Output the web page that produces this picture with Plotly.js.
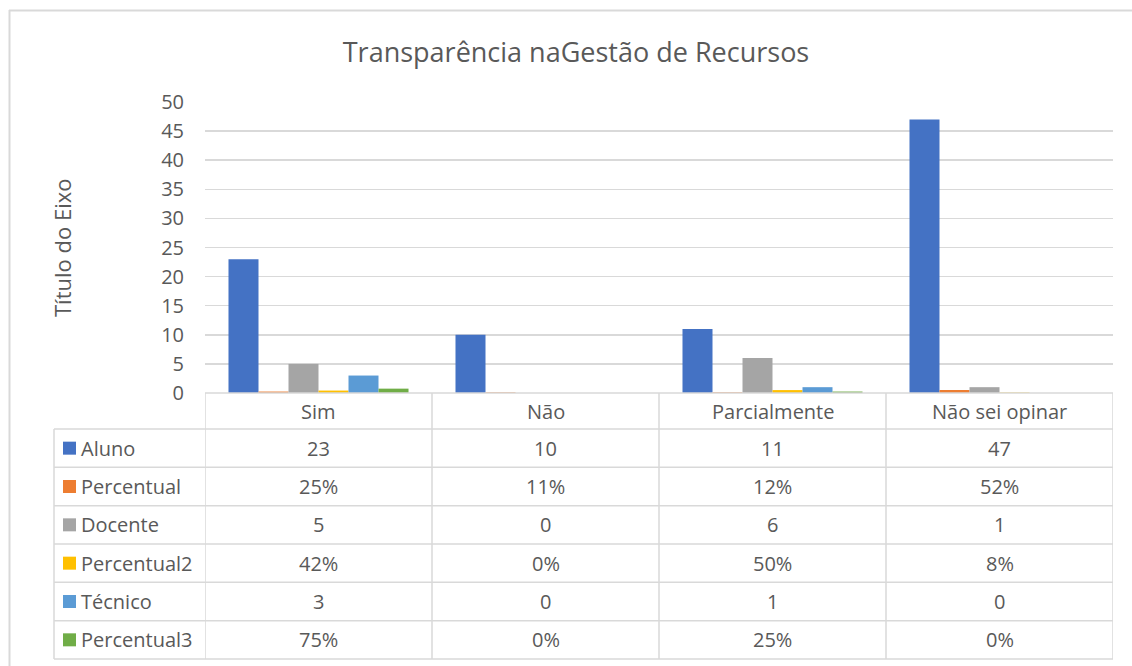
<!DOCTYPE html>
<html><head><meta charset="utf-8">
<script src="https://cdn.plot.ly/plotly-3.0.1.min.js"></script>
<style>html,body{margin:0;padding:0;background:#fff}#chart{width:1132px;height:666px}</style>
</head><body><div id="chart"></div>
<script>
const categories = ["Sim", "Não", "Parcialmente", "Não sei opinar"];
const seriesNames = ["Aluno", "Percentual", "Docente", "Percentual2", "Técnico", "Percentual3"];
const aluno = [23, 10, 11, 47];
const percentual = [0.25, 0.11, 0.12, 0.52];
const docente = [5, 0, 6, 1];
const percentual2 = [0.42, 0, 0.50, 0.08];
const tecnico = [3, 0, 1, 0];
const percentual3 = [0.75, 0, 0.25, 0];
const isPercent = [false, true, false, true, false, true];
const colors = ["#4472C4", "#ED7D31", "#A5A5A5", "#FFC000", "#5B9BD5", "#70AD47"];
const yTicks = [0, 5, 10, 15, 20, 25, 30, 35, 40, 45, 50];
const seriesValues = [aluno, percentual, docente, percentual2, tecnico, percentual3];

const W = 1132, H = 666;
const L = 205, R = 1113, T = 102, B = 393;
const pw = R - L, ph = B - T;
const px = p => (p - L) / pw;
const py = p => (B - p) / ph;
const FONT = "Open Sans, Lato, sans-serif";
const TXT = "#595959";
const LINE = "#d9d9d9";
const FS = 20;

const traces = seriesNames.map((n, i) => ({
  type: "bar", name: n, x: categories, y: seriesValues[i],
  marker: {color: colors[i]}, hoverinfo: "skip"
}));

const shapes = [];
const annotations = [];
const hdrBot = 429, tblBot = 659;
const nRows = seriesNames.length;
const rowH = (tblBot - hdrBot) / nRows;
const lineStyle = {color: LINE, width: 1.5};

// outer frame (left and top)
shapes.push({type: "line", xref: "paper", yref: "paper", x0: px(9), x1: px(1132), y0: py(10.5), y1: py(10.5), line: {color: LINE, width: 2}});
shapes.push({type: "line", xref: "paper", yref: "paper", x0: px(9.5), x1: px(9.5), y0: py(10), y1: py(666), line: {color: LINE, width: 2}});

// table vertical lines
for (let k = 0; k <= categories.length; k++) {
  shapes.push({type: "line", xref: "x", yref: "paper", x0: k - 0.5, x1: k - 0.5, y0: py(B), y1: py(tblBot), line: lineStyle});
}
shapes.push({type: "line", xref: "paper", yref: "paper", x0: px(54), x1: px(54), y0: py(hdrBot), y1: py(tblBot), line: lineStyle});
// table horizontal lines
shapes.push({type: "line", xref: "paper", yref: "paper", x0: 0, x1: 1, y0: 0, y1: 0, line: lineStyle});
for (let r = 0; r <= nRows; r++) {
  const yy = hdrBot + r * rowH;
  shapes.push({type: "line", xref: "paper", yref: "paper", x0: px(54), x1: 1, y0: py(yy), y1: py(yy), line: lineStyle});
}
// header texts
categories.forEach((c, k) => {
  annotations.push({xref: "x", yref: "paper", x: k, y: py((B + hdrBot) / 2), text: c, showarrow: false,
    font: {family: FONT, size: FS, color: TXT}, xanchor: "center", yanchor: "middle"});
});
// rows
seriesNames.forEach((n, i) => {
  const yc = hdrBot + (i + 0.5) * rowH;
  shapes.push({type: "rect", xref: "paper", yref: "paper", x0: px(63), x1: px(76), y0: py(yc - 6.5), y1: py(yc + 6.5),
    fillcolor: colors[i], line: {width: 0}});
  annotations.push({xref: "paper", yref: "paper", x: px(79), y: py(yc), text: n, showarrow: false,
    font: {family: FONT, size: FS, color: TXT}, xanchor: "left", yanchor: "middle"});
  seriesValues[i].forEach((v, k) => {
    const t = isPercent[i] ? Math.round(v * 100) + "%" : String(v);
    annotations.push({xref: "x", yref: "paper", x: k, y: py(yc), text: t, showarrow: false,
      font: {family: FONT, size: FS, color: TXT}, xanchor: "center", yanchor: "middle"});
  });
});
// y axis title
annotations.push({xref: "paper", yref: "paper", x: px(62), y: py(248), text: "Título do Eixo", textangle: -90,
  showarrow: false, font: {family: FONT, size: 22, color: TXT}, xanchor: "center", yanchor: "middle"});

const layout = {
  width: W, height: H,
  margin: {l: L, r: W - R, t: T, b: H - B, pad: 0},
  paper_bgcolor: "#fff", plot_bgcolor: "#fff",
  title: {text: "Transparência naGestão de Recursos", x: 576 / W, xanchor: "center", y: 1 - 53 / H, yanchor: "middle",
    font: {family: FONT, size: 27, color: TXT}},
  showlegend: false,
  barmode: "group", bargap: 0.207, bargroupgap: 0,
  xaxis: {type: "category", range: [-0.5, 3.5], showticklabels: false, showgrid: false, zeroline: false, showline: false, ticks: ""},
  yaxis: {range: [0, 50], tickvals: yTicks, ticktext: yTicks.map(String), showgrid: true, gridcolor: LINE, gridwidth: 1.5,
    zeroline: false, showline: false, ticks: "", ticklabelstandoff: 20,
    tickfont: {family: FONT, size: FS, color: TXT}},
  shapes: shapes, annotations: annotations
};
Plotly.newPlot("chart", traces, layout, {staticPlot: true, displayModeBar: false});
</script>
</body></html>
